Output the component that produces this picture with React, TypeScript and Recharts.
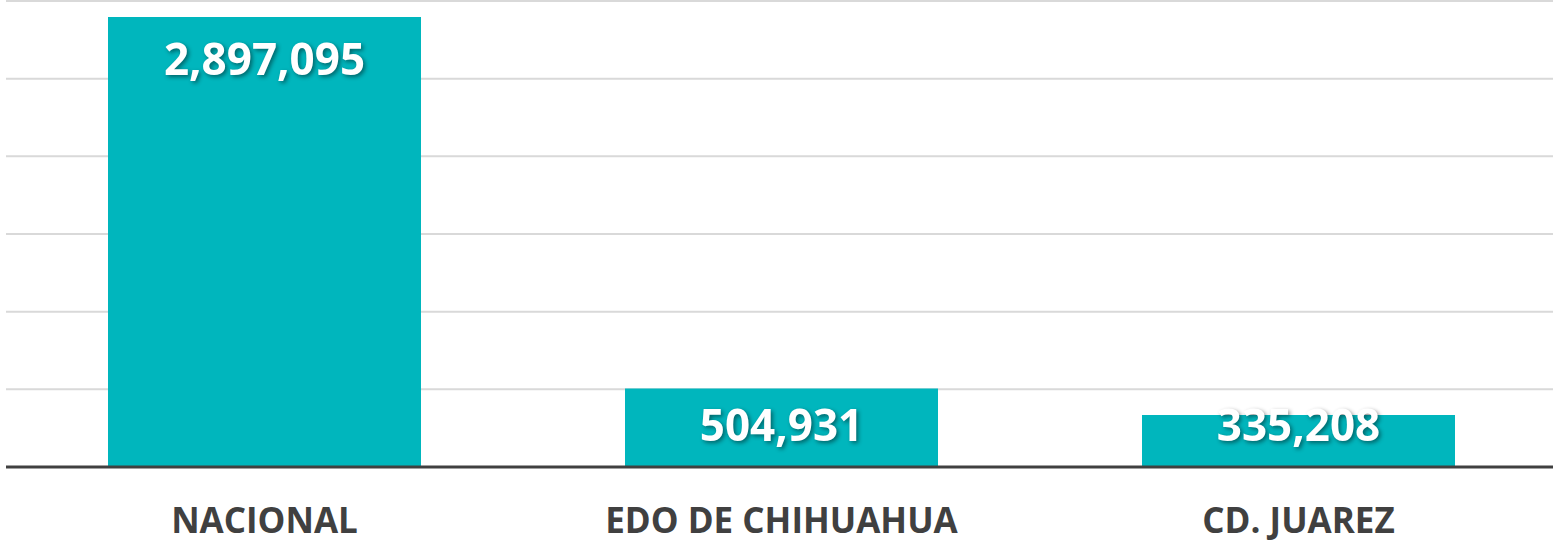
import { BarChart, Bar, XAxis, YAxis, CartesianGrid, LabelList } from 'recharts';

const categories = ['NACIONAL', 'EDO DE CHIHUAHUA', 'CD. JUAREZ'];
const values = [2897095, 504931, 335208];
const yTicks = [0, 500000, 1000000, 1500000, 2000000, 2500000, 3000000];

const data = categories.map((name, i) => ({ name, value: values[i] }));

const FONT = '"Open Sans", "Noto Sans", sans-serif';

// white value label near the top of each bar, kept above the baseline for short bars
const ValueLabel = (props: any) => {
    const { x, y, width, height, value } = props;
    const cy = Math.min(y + 41, y + height - 43);
    return (
        <text
            x={x + width / 2}
            y={cy}
            textAnchor="middle"
            dominantBaseline="central"
            fill="#ffffff"
            fontFamily={FONT}
            fontWeight={700}
            fontSize={44}
            style={{ filter: 'drop-shadow(2px 2px 2px rgba(0,0,0,0.45))' }}
        >
            {Number(value).toLocaleString('en-US')}
        </text>
    );
};

const CategoryTick = ({ x, y, payload }: any) => (
    <text
        x={x}
        y={y + 44}
        textAnchor="middle"
        dominantBaseline="central"
        fill="#404040"
        fontFamily={FONT}
        fontWeight={700}
        fontSize={35}
    >
        {payload.value}
    </text>
);

export default function App() {
    return (
        <div style={{ width: 1553, height: 541, overflow: 'hidden', background: '#fff' }}>
            <style>{`body{margin:0}`}</style>
            <BarChart
                width={1557}
                height={541}
                data={data}
                margin={{ top: 1, right: 0, bottom: 0, left: 6 }}
                barCategoryGap={0}
            >
                <CartesianGrid vertical={false} stroke="#d9d9d9" strokeWidth={2} />
                <YAxis hide domain={[0, 3000000]} ticks={yTicks} />
                <XAxis
                    dataKey="name"
                    height={74}
                    axisLine={{ stroke: '#404040', strokeWidth: 3 }}
                    tickLine={false}
                    tick={<CategoryTick />}
                    interval={0}
                />
                <Bar dataKey="value" fill="#00b6bd" barSize={313} isAnimationActive={false}>
                    <LabelList dataKey="value" content={<ValueLabel />} />
                </Bar>
            </BarChart>
        </div>
    );
}
